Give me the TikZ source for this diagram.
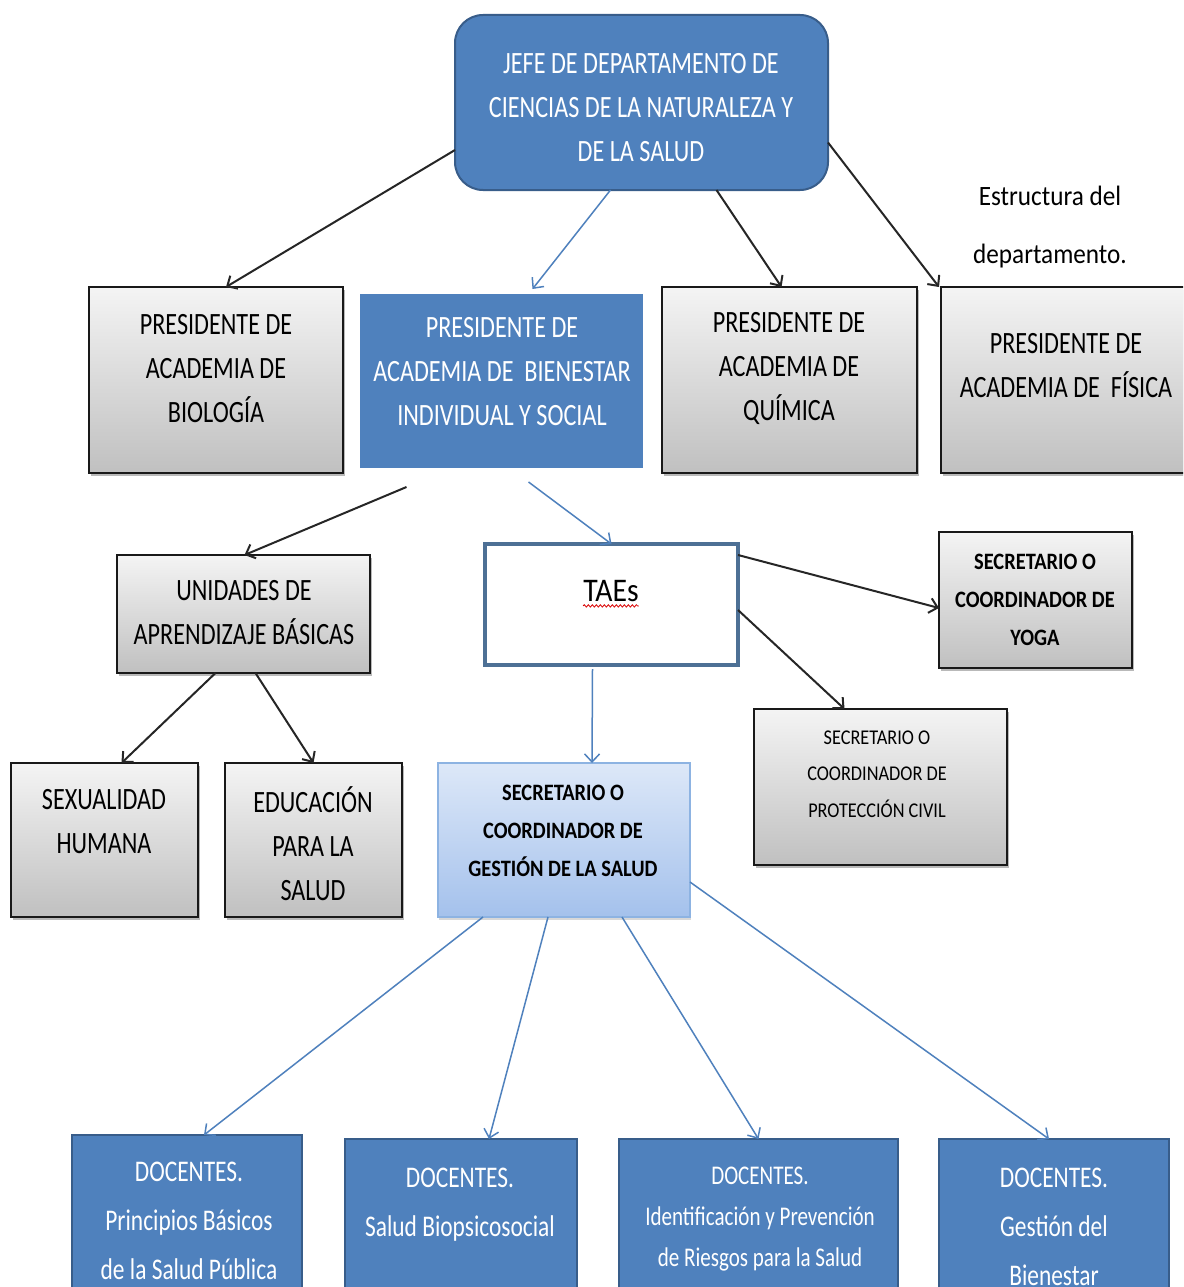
\documentclass[tikz,border=0pt]{standalone}
\usepackage{fontspec}
\setmainfont{Carlito}
\newfontfamily\mainf[FakeStretch=0.78]{Carlito}
\newfontfamily\smallf[FakeStretch=0.87]{Carlito}
\newfontfamily\notef[FakeStretch=0.9]{Carlito}
\usetikzlibrary{fit,shadows,arrows.meta,decorations.pathmorphing}
\definecolor{wordblue}{HTML}{4F81BD}
\definecolor{bluedark}{HTML}{385D8A}
\definecolor{taeborder}{HTML}{4D7095}
\definecolor{gesttop}{HTML}{DDE8F8}
\definecolor{gestbot}{HTML}{A4C1EC}
\definecolor{gestline}{HTML}{8DB3E2}
\definecolor{graytop}{HTML}{F4F4F4}
\definecolor{graybot}{HTML}{C0C0C0}
\begin{document}
\begin{tikzpicture}[x=1pt,y=-1pt,
  box/.style={rectangle, inner sep=0pt, outer sep=0pt},
  graybox/.style={box, draw=black!90, line width=2pt, top color=graytop, bottom color=graybot,
    drop shadow={shadow xshift=1.5pt, shadow yshift=-3pt, opacity=0.55}},
  bluebox/.style={box, draw=bluedark, line width=2pt, fill=wordblue},
  bluebox2/.style={box, draw=white, line width=4pt, fill=wordblue,
    drop shadow={shadow xshift=0pt, shadow yshift=-2pt, opacity=0.25}},
  taebox/.style={box, draw=taeborder, line width=3.5pt, fill=white},
  gestbox/.style={box, draw=gestline, line width=1.5pt, top color=gesttop, bottom color=gestbot,
    drop shadow={shadow xshift=1pt, shadow yshift=-3pt, opacity=0.3}},
  docbox/.style={box, draw=bluedark, line width=2pt, fill=wordblue,
    drop shadow={shadow xshift=0pt, shadow yshift=-2pt, opacity=0.3}},
  tmain/.style={align=center, inner sep=0pt, text=black, font=\mainf\fontsize{31}{44}\selectfont},
  twhite/.style={tmain, text=white},
  ttae/.style={align=center, inner sep=0pt, text=black, font=\notef\fontsize{33}{44}\selectfont},
  tbold/.style={align=center, inner sep=0pt, text=black, font=\smallf\bfseries\fontsize{23.5}{38}\selectfont},
  tsmall/.style={align=center, inner sep=0pt, text=black, font=\smallf\fontsize{21}{36.5}\selectfont},
  tdoc/.style={align=center, inner sep=0pt, text=white, font=\mainf\fontsize{30}{49}\selectfont},
  tdocs/.style={align=center, inner sep=0pt, text=white, font=\mainf\fontsize{27}{41}\selectfont},
  tnote/.style={align=center, inner sep=0pt, text=black, font=\notef\fontsize{28}{58}\selectfont},
  blk/.style={draw=black!85, line width=2pt, -{Straight Barb[length=8pt,width=15pt]}},
  blu/.style={draw=wordblue, line width=1.5pt, -{Straight Barb[length=8pt,width=15pt]}}
]
\useasboundingbox (0,0) rectangle (1183,1287);
\clip (0,0) rectangle (1183,1287);
\fill[white] (0,0) rectangle (1183,1287);

% boxes
\node (jefe) [bluebox, rounded corners=28pt, fit={(455,15) (828,190)}] {};
\node (bio)  [graybox, fit={(89,287) (343,473)}] {};
\node (bien) [bluebox2, fit={(358,292) (645,470)}] {};
\node (quim) [graybox, fit={(662,287) (917,473)}] {};
\node (fis)  [graybox, fit={(941,287) (1205,473)}] {};
\node (unid) [graybox, fit={(117,555) (370,673)}] {};
\node (taes) [taebox, fit={(485,544) (738,665)}] {};
\node (yoga) [graybox, fit={(939,532) (1132,668)}] {};
\node (prot) [graybox, fit={(754,709) (1007,865)}] {};
\node (sex)  [graybox, fit={(11,763) (198,917)}] {};
\node (edu)  [graybox, fit={(225,763) (402,917)}] {};
\node (gest) [gestbox, fit={(438,763) (690,917)}] {};
\node (doc1) [docbox, fit={(72,1135) (302,1320)}] {};
\node (doc2) [docbox, fit={(345,1139) (577,1320)}] {};
\node (doc3) [docbox, fit={(619,1139) (898,1320)}] {};
\node (doc4) [docbox, fit={(939,1139) (1169,1320)}] {};

% texts
\node (jefe-t) [twhite] at (641,108) {JEFE DE DEPARTAMENTO DE\\CIENCIAS DE LA NATURALEZA Y\\DE LA SALUD};
\node (bio-t)  [tmain] at (216,369) {PRESIDENTE DE\\ACADEMIA DE\\BIOLOGÍA};
\node (bien-t) [twhite] at (502,372) {PRESIDENTE DE\\ACADEMIA DE \ BIENESTAR\\INDIVIDUAL Y SOCIAL};
\node (quim-t) [tmain] at (789,368) {PRESIDENTE DE\\ACADEMIA DE\\QUÍMICA};
\node (fis-t)  [tmain] at (1066,366) {PRESIDENTE DE\\ACADEMIA DE \ FÍSICA};
\node (note)   [tnote] at (1050,227) {Estructura del\\departamento.};
\node (unid-t) [tmain] at (244,613) {UNIDADES DE\\APRENDIZAJE BÁSICAS};
\node (taes-t) [ttae] at (611,591) {TAEs};
\node (yoga-t) [tbold] at (1035,600) {SECRETARIO O\\COORDINADOR DE\\YOGA};
\node (prot-t) [tsmall] at (877,774) {SECRETARIO O\\COORDINADOR DE\\PROTECCIÓN CIVIL};
\node (sex-t)  [tmain] at (104,822) {SEXUALIDAD\\HUMANA};
\node (edu-t)  [tmain] at (313,844) {EDUCACIÓN\\PARA LA\\SALUD};
\node (gest-t) [tbold] at (563,831) {SECRETARIO O\\COORDINADOR DE\\GESTIÓN DE LA SALUD};
\node (doc1-t) [tdoc, anchor=north] at (189,1162) {DOCENTES.\\Principios Básicos\\de la Salud Pública};
\node (doc2-t) [tdoc, anchor=north] at (460,1168) {DOCENTES.\\Salud Biopsicosocial};
\node (doc3-t) [tdocs, anchor=north] at (760,1167) {DOCENTES.\\Identificación y Prevención\\de Riesgos para la Salud};
\node (doc4-t) [tdoc, anchor=north] at (1054,1168) {DOCENTES.\\Gestión del\\Bienestar};

% spell-check underline
\draw[red!85!black, line width=0.8pt, decorate, decoration={snake, amplitude=1.2pt, segment length=4pt}]
  ([yshift=-4pt]taes-t.south west) -- ([yshift=-4pt]taes-t.south east);

% connectors
\draw[blk] ([yshift=-47.5pt]jefe.west) -- ([xshift=10pt]bio.north);
\draw[blu] ([xshift=-31pt]jefe.south) -- ([xshift=31pt,yshift=3pt]bien.north);
\draw[blk] ([xshift=75pt]jefe.south) -- ([xshift=-8pt]quim.north);
\draw[blk] ([yshift=-40pt]jefe.east) -- ([xshift=-2pt]fis.north west);
\draw[blk] ([xshift=-95pt,yshift=-17pt]bien.south) -- ([xshift=1pt]unid.north);
\draw[blu] ([xshift=27pt,yshift=-12pt]bien.south) -- (taes.north);
\draw[blk] ([yshift=-11pt]taes.north east) -- ([yshift=-8pt]yoga.west);
\draw[blk] ([yshift=-66pt]taes.north east) -- ([xshift=-36pt]prot.north);
\draw[blk] ([xshift=-28pt]unid.south) -- ([xshift=17pt]sex.north);
\draw[blk] ([xshift=12pt]unid.south) -- (edu.north);
\draw[blu] ([xshift=-19pt,yshift=-4pt]taes.south) -- ([xshift=28pt]gest.north);
\draw[blu] ([xshift=-81pt]gest.south) -- ([xshift=17pt]doc1.north);
\draw[blu] ([xshift=-16pt]gest.south) -- ([xshift=28pt]doc2.north);
\draw[blu] ([xshift=58pt]gest.south) -- (doc3.north);
\draw[blu] ([yshift=-42pt]gest.east) -- ([xshift=-5pt]doc4.north);
\end{tikzpicture}
\end{document}
